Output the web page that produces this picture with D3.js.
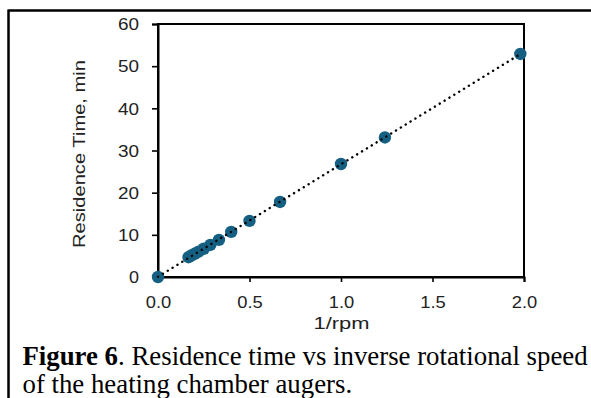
<!DOCTYPE html>
<html>
<head>
<meta charset="utf-8">
<script src="https://cdn.jsdelivr.net/npm/d3@7/dist/d3.min.js"></script>
<style>
  html, body { margin: 0; padding: 0; background: #fff; }
  svg { display: block; }
</style>
</head>
<body>
<svg id="chart" width="591" height="398"></svg>
<script>
// ---- data ----
const invRpm = [0, 0.167, 0.182, 0.2, 0.222, 0.25, 0.286, 0.333, 0.4, 0.5, 0.667, 1.0, 1.24, 1.98];
const residenceMin = [0, 4.7, 5.1, 5.5, 6.0, 6.7, 7.6, 8.8, 10.7, 13.3, 17.8, 26.8, 33.1, 52.9];
const xTicks = [0, 0.5, 1.0, 1.5, 2.0];
const yTicks = [0, 10, 20, 30, 40, 50, 60];
const xLabel = "1/rpm";
const yLabel = "Residence Time,  min";
const captionBold = "Figure 6";
const captionLine1 = ". Residence time vs inverse rotational speed";
const captionLine2 = "of the heating chamber augers.";

const svg = d3.select("#chart");
const W = 591, H = 398;
const plot = { left: 158, right: 524, top: 24, bottom: 277 };

const x = d3.scaleLinear().domain([0, 2]).range([plot.left, plot.right]);
const y = d3.scaleLinear().domain([0, 60]).range([plot.bottom, plot.top]);

// outer figure border (top and left)
svg.append("line").attr("x1", 8.5).attr("x2", W).attr("y1", 10.5).attr("y2", 10.5)
  .attr("stroke", "#000").attr("stroke-width", 2.5);
svg.append("line").attr("x1", 8.5).attr("x2", 8.5).attr("y1", 9.5).attr("y2", H)
  .attr("stroke", "#000").attr("stroke-width", 2.5);

const sans = "'Liberation Sans', Arial, sans-serif";

// plot area frame
svg.append("rect")
  .attr("x", plot.left).attr("y", plot.top)
  .attr("width", plot.right - plot.left).attr("height", plot.bottom - plot.top)
  .attr("fill", "none").attr("stroke", "#000").attr("stroke-width", 2);

// y axis
const yAxis = d3.axisLeft(y).tickValues(yTicks).tickSize(6).tickPadding(13).tickFormat(d3.format("d"));
const gy = svg.append("g").attr("transform", `translate(${plot.left},0)`).call(yAxis);
gy.select(".domain").attr("stroke-width", 2);
gy.selectAll(".tick line").attr("stroke-width", 1.6);
gy.selectAll(".tick text")
  .attr("font-family", sans).attr("font-size", 16).attr("fill", "#222")
  .attr("dy", "0.36em")
  .attr("textLength", d => String(d).length === 1 ? 10 : 21)
  .attr("lengthAdjust", "spacingAndGlyphs");

// x axis
const xAxis = d3.axisBottom(x).tickValues(xTicks).tickSize(5).tickPadding(19).tickFormat(d3.format(".1f"));
const gx = svg.append("g").attr("transform", `translate(0,${plot.bottom})`).call(xAxis);
gx.select(".domain").attr("stroke-width", 2);
gx.selectAll(".tick line").attr("stroke-width", 1.6);
gx.selectAll(".tick text")
  .attr("font-family", sans).attr("font-size", 16).attr("fill", "#222")
  .attr("dy", "0")
  .attr("y", 308 - plot.bottom)
  .attr("textLength", 25.5)
  .attr("lengthAdjust", "spacingAndGlyphs");

// axis titles
svg.append("text")
  .attr("x", 341.5).attr("y", 329)
  .attr("text-anchor", "middle")
  .attr("font-family", sans).attr("font-size", 16).attr("fill", "#222")
  .attr("textLength", 56).attr("lengthAdjust", "spacingAndGlyphs")
  .text(xLabel);

svg.append("text")
  .attr("transform", "translate(85,154) rotate(-90)")
  .attr("text-anchor", "middle")
  .attr("font-family", sans).attr("font-size", 16.5).attr("fill", "#222")
  .attr("textLength", 188).attr("lengthAdjust", "spacingAndGlyphs")
  .text(yLabel);

// markers
const pts = invRpm.map((v, i) => ({ x: v, y: residenceMin[i] }));
svg.append("g").selectAll("circle").data(pts).join("circle")
  .attr("cx", d => x(d.x)).attr("cy", d => y(d.y)).attr("r", 6.2)
  .attr("fill", "#156082");

// linear trendline (least squares)
const mx = d3.mean(pts, d => d.x), my = d3.mean(pts, d => d.y);
const slope = d3.sum(pts, d => (d.x - mx) * (d.y - my)) / d3.sum(pts, d => (d.x - mx) ** 2);
const icpt = my - slope * mx;
const xExt = d3.extent(invRpm);
const trend = xExt.map(v => ({ x: v, y: icpt + slope * v }));
svg.append("path")
  .attr("d", d3.line().x(d => x(d.x)).y(d => y(d.y))(trend))
  .attr("fill", "none").attr("stroke", "#000").attr("stroke-width", 2.4)
  .attr("stroke-linecap", "round").attr("stroke-dasharray", "0.1 5.6");

// caption
const serif = "'Liberation Serif', 'Times New Roman', serif";
const cap1 = svg.append("text").attr("x", 22.5).attr("y", 365)
  .attr("font-family", serif).attr("font-size", 26.8).attr("fill", "#000");
cap1.append("tspan").attr("font-weight", "bold").text(captionBold);
cap1.append("tspan").text(captionLine1);
svg.append("text").attr("x", 22.5).attr("y", 393)
  .attr("font-family", serif).attr("font-size", 26.8).attr("fill", "#000")
  .text(captionLine2);
</script>
</body>
</html>
